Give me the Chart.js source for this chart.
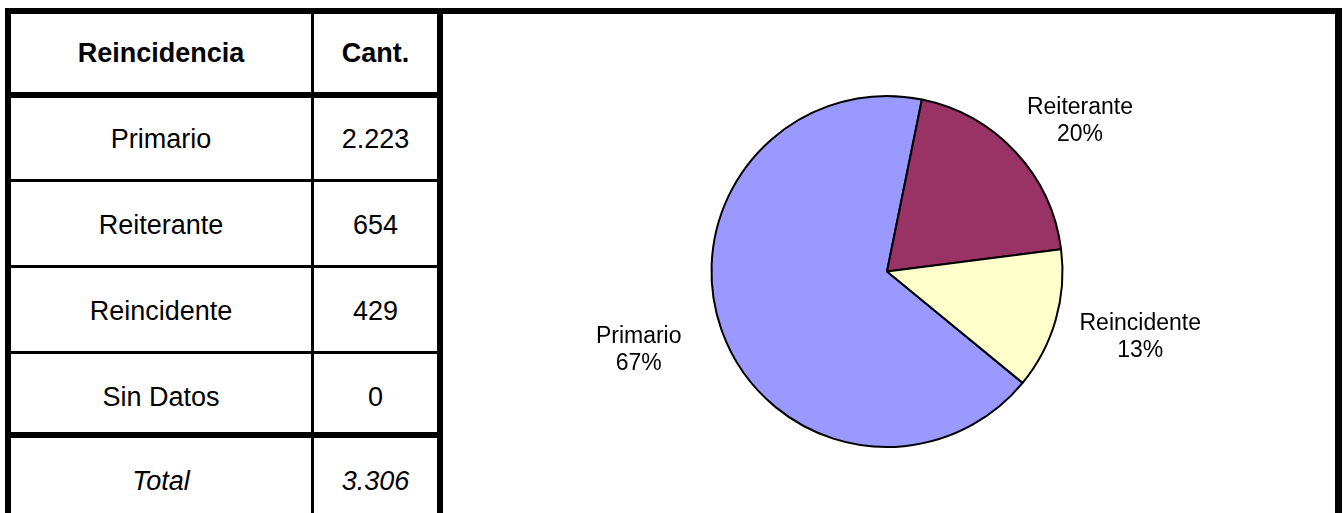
<!DOCTYPE html>
<html>
<head>
<meta charset="utf-8">
<script src="https://cdn.jsdelivr.net/npm/chart.js@4.4.0/dist/chart.umd.min.js"></script>
<style>
  html, body { margin: 0; padding: 0; background: #fff; }
  body { width: 1343px; height: 513px; position: relative; overflow: hidden;
         font-family: "Liberation Sans", Arial, sans-serif; }
  .ln { position: absolute; background: #000; }
  .cell { position: absolute; height: 40px; line-height: 40px; text-align: center;
          font-size: 27px; color: #000; white-space: nowrap; }
  .hd { font-weight: bold; }
  .it { font-style: italic; }
  #wrap { position: absolute; left: 443px; top: 14px; width: 892px; height: 499px; }
</style>
</head>
<body>
<div id="tabla"></div>
<div id="wrap"><canvas id="pie"></canvas></div>
<script>
const categorias = ['Primario', 'Reiterante', 'Reincidente', 'Sin Datos'];
const cantidades = [2223, 654, 429, 0];
const colores = ['#9999FF', '#993366', '#FFFFCC', '#CCFFFF'];
const encabezado = ['Reincidencia', 'Cant.'];

const total = cantidades.reduce((a, b) => a + b, 0);

function miles(n) {
  return String(n).replace(/\B(?=(\d{3})+(?!\d))/g, '.');
}

// marco y lineas de la tabla
const lineas = [
  [5, 8, 1337, 6],      // arriba
  [5, 8, 6, 505],       // izquierda
  [1335, 8, 7, 505],    // derecha
  [437, 8, 6, 505],     // fin de la tabla
  [311, 14, 3, 499],    // entre columnas
  [5, 92, 438, 6],      // bajo encabezado
  [5, 179, 438, 3],
  [5, 265, 438, 3],
  [5, 351, 438, 3],
  [5, 432, 438, 6]      // sobre total
];
const tabla = document.getElementById('tabla');
lineas.forEach(l => {
  const d = document.createElement('div');
  d.className = 'ln';
  d.style.left = l[0] + 'px'; d.style.top = l[1] + 'px';
  d.style.width = l[2] + 'px'; d.style.height = l[3] + 'px';
  tabla.appendChild(d);
});

function celda(txt, col, cy, cls) {
  const d = document.createElement('div');
  d.className = 'cell ' + (cls || '');
  if (col === 0) { d.style.left = '11px'; d.style.width = '300px'; }
  else { d.style.left = '314px'; d.style.width = '123px'; }
  d.style.top = (cy - 20) + 'px';
  d.textContent = txt;
  tabla.appendChild(d);
}

const centros = [139, 225, 311, 397];
celda(encabezado[0], 0, 53, 'hd');
celda(encabezado[1], 1, 53, 'hd');
categorias.forEach((c, i) => {
  celda(c, 0, centros[i]);
  celda(miles(cantidades[i]), 1, centros[i]);
});
celda('Total', 0, 481, 'it');
celda(miles(total), 1, 481, 'it');

// etiquetas de la torta, sobre una elipse alrededor del circulo
const etiquetas = {
  id: 'etiquetas',
  afterDatasetsDraw(chart) {
    const ctx = chart.ctx;
    const meta = chart.getDatasetMeta(0);
    ctx.save();
    ctx.font = '23px "Liberation Sans", Arial, sans-serif';
    ctx.fillStyle = '#000';
    ctx.textAlign = 'center';
    ctx.textBaseline = 'middle';
    meta.data.forEach((arc, i) => {
      const v = cantidades[i];
      if (!v) return;
      const p = arc.getProps(['x', 'y', 'startAngle', 'endAngle', 'outerRadius'], true);
      const mid = (p.startAngle + p.endAngle) / 2;
      const x = p.x + Math.cos(mid) * (p.outerRadius + 88);
      const y = p.y + 3 + Math.sin(mid) * (p.outerRadius + 50);
      ctx.fillText(categorias[i], x, y - 13);
      ctx.fillText(Math.round(v / total * 100) + '%', x, y + 14);
    });
    ctx.restore();
  }
};

new Chart(document.getElementById('pie'), {
  type: 'pie',
  data: {
    labels: categorias,
    datasets: [{
      data: cantidades,
      backgroundColor: colores,
      borderColor: '#000',
      borderWidth: 2
    }]
  },
  options: {
    responsive: true,
    maintainAspectRatio: false,
    animation: false,
    rotation: 129.4,
    layout: { padding: { top: 81, bottom: 65, left: 0, right: 4 } },
    plugins: {
      legend: { display: false },
      tooltip: { enabled: false }
    }
  },
  plugins: [etiquetas]
});
</script>
</body>
</html>
